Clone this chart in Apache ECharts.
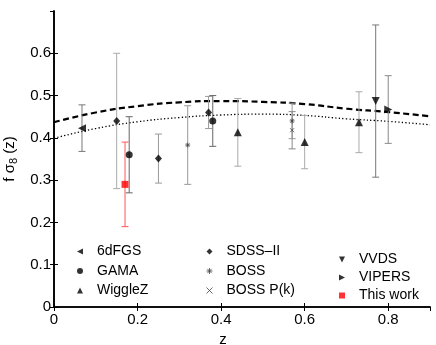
<!DOCTYPE html>
<html>
<head>
<meta charset="utf-8">
<script src="https://cdn.jsdelivr.net/npm/echarts@6/dist/echarts.min.js"></script>
<style>
  html, body { margin: 0; padding: 0; background: #fff; }
  #main { width: 436px; height: 345px; }
</style>
</head>
<body>
<div id="main"></div>
<script>
  // each point: [z, f sigma8, error]
  const sixdFGS = [[0.067, 0.423, 0.055]]
  const gama = [[0.18, 0.36, 0.09], [0.38, 0.44, 0.06]]
  const wiggleZ = [[0.44, 0.413, 0.08], [0.60, 0.39, 0.063], [0.73, 0.437, 0.072]]
  const sdssLow = [[0.15, 0.44, 0.16]]
  const sdss = [[0.25, 0.351, 0.058], [0.37, 0.46, 0.038]]
  const boss = [[0.32, 0.383, 0.093], [0.57, 0.44, 0.042]]
  const bossPk = [[0.57, 0.418, 0.044]]
  const vvds = [[0.77, 0.487, 0.18]]
  const vipers = [[0.80, 0.467, 0.08]]
  const thisWork = [[0.17, 0.29, 0.10]]

  // model curves
  const modelZ = [0, 0.1, 0.2, 0.3, 0.4, 0.5, 0.6, 0.7, 0.8, 0.9]
  const dashedModel = [0.437, 0.460, 0.475, 0.484, 0.487, 0.485, 0.480, 0.469, 0.461, 0.451]
  const dottedModel = [0.399, 0.422, 0.438, 0.448, 0.454, 0.456, 0.453, 0.445, 0.439, 0.431]

  const xTicks = ['0', '0.2', '0.4', '0.6', '0.8']
  const yTicks = ['0', '0.1', '0.2', '0.3', '0.4', '0.5', '0.6']

  const FONT = 'Liberation Sans'
  const ASTERISK = 'path://M5,0L5,10M0,5L10,5M1.5,1.5L8.5,8.5M8.5,1.5L1.5,8.5'
  const CROSS = 'path://M0,0L10,10M10,0L0,10'
  const TRI_LEFT = 'path://M0,5L10,0L10,10Z'
  const TRI_RIGHT = 'path://M10,5L0,0L0,10Z'
  const TRI_DOWN = 'path://M0,0L10,0L5,10Z'
  const STAR_STYLE = {color: 'none', borderColor: '#444', borderWidth: 1}

  const chart = echarts.init(document.getElementById('main'))

  function errorBars (data, color) {
    return {
      type: 'custom',
      silent: true,
      z: 2,
      data: data,
      encode: {x: 0, y: 1},
      renderItem: function (params, api) {
        const z = api.value(0)
        const v = api.value(1)
        const e = api.value(2)
        const top = api.coord([z, v + e])
        const bot = api.coord([z, v - e])
        const cap = 3.5
        const style = {stroke: color, lineWidth: 1}
        return {
          type: 'group',
          children: [
            {type: 'line', shape: {x1: top[0], y1: top[1], x2: bot[0], y2: bot[1]}, style: style},
            {type: 'line', shape: {x1: top[0] - cap, y1: top[1], x2: top[0] + cap, y2: top[1]}, style: style},
            {type: 'line', shape: {x1: bot[0] - cap, y1: bot[1], x2: bot[0] + cap, y2: bot[1]}, style: style}
          ]
        }
      }
    }
  }

  function points (name, data, symbol, size, style) {
    return {
      name: name,
      type: 'scatter',
      z: 3,
      data: data.map(d => [d[0], d[1]]),
      symbol: symbol,
      symbolSize: size,
      symbolKeepAspect: true,
      itemStyle: style || {color: '#000'}
    }
  }

  const legendText = {fontFamily: FONT, fontSize: 14, color: '#000', padding: [0, 0, 0, 9]}
  const legendBase = {
    orient: 'vertical', itemWidth: 6, itemHeight: 6, padding: 0,
    selectedMode: false, textStyle: legendText
  }
  const frameLine = {show: true, lineStyle: {color: '#000', width: 1.6}}

  const option = {
    animation: false,
    grid: {left: 54, right: 6, top: 11, bottom: 38, outerBoundsMode: 'none', containLabel: false},
    legend: [
      Object.assign({left: 77, top: 244.5, itemGap: 5.5, data: [
        {name: '6dFGS', icon: TRI_LEFT},
        {name: 'GAMA', icon: 'circle', itemStyle: {color: '#000'}},
        {name: 'WiggleZ', icon: 'triangle'}
      ]}, legendBase),
      Object.assign({left: 204, top: 244.5, itemGap: 5.5, data: [
        {name: 'SDSS–II', icon: 'diamond'},
        {name: 'BOSS', icon: ASTERISK, itemStyle: STAR_STYLE},
        {name: 'BOSS P(k)', icon: CROSS, itemStyle: STAR_STYLE}
      ]}, legendBase),
      Object.assign({left: 339, top: 252.5, itemGap: 4, data: [
        {name: 'VVDS', icon: TRI_DOWN},
        {name: 'VIPERS', icon: TRI_RIGHT},
        {name: 'This work', icon: 'rect'}
      ]}, legendBase)
    ],
    xAxis: [
      {
        type: 'value', min: 0, max: 0.9, interval: 0.2,
        name: 'z', nameLocation: 'middle', nameGap: 22,
        nameTextStyle: {fontFamily: FONT, fontSize: 15, color: '#000', padding: [0, 38, 0, 0]},
        axisLine: frameLine,
        axisTick: {inside: true, length: 4, lineStyle: {color: '#000'}},
        axisLabel: {
          fontFamily: FONT, fontSize: 15, color: '#000', margin: 5, showMaxLabel: false,
          formatter: v => xTicks.find(t => Math.abs(+t - v) < 1e-6) || ''
        },
        splitLine: {show: false}
      },
      {
        type: 'value', min: 0, max: 0.9, interval: 0.2, position: 'top',
        axisLine: frameLine,
        axisTick: {inside: true, length: 4, lineStyle: {color: '#000'}},
        axisLabel: {show: false},
        splitLine: {show: false}
      }
    ],
    yAxis: [
      {
        type: 'value', min: 0, max: 0.7, interval: 0.1,
        name: '{a|f σ}{s|8}{a| (z)}', nameLocation: 'middle', nameGap: 32,
        nameTextStyle: {
          color: '#000',
          rich: {
            a: {fontFamily: FONT, fontSize: 15, color: '#000'},
            s: {fontFamily: FONT, fontSize: 11, color: '#000', padding: [8, 0, 0, 0]}
          }
        },
        axisLine: frameLine,
        axisTick: {inside: true, length: 4, lineStyle: {color: '#000'}},
        axisLabel: {
          fontFamily: FONT, fontSize: 15, color: '#000', margin: 3, showMaxLabel: false,
          formatter: v => yTicks.find(t => Math.abs(+t - v) < 1e-6) || ''
        },
        splitLine: {show: false}
      },
      {
        type: 'value', min: 0, max: 0.7, interval: 0.1, position: 'right',
        axisLine: frameLine,
        axisTick: {inside: true, length: 4, lineStyle: {color: '#000'}},
        axisLabel: {show: false},
        splitLine: {show: false}
      }
    ],
    series: [
      {
        type: 'line', silent: true, z: 1, smooth: true, showSymbol: false,
        data: modelZ.map((z, i) => [z, dashedModel[i]]),
        lineStyle: {color: '#000', width: 2.2, type: [6, 3.5]}
      },
      {
        type: 'line', silent: true, z: 1, smooth: true, showSymbol: false,
        data: modelZ.map((z, i) => [z, dottedModel[i]]),
        lineStyle: {color: '#000', width: 1.3, type: [1.3, 2.2]}
      },
      errorBars(sixdFGS, '#777'),
      errorBars(gama, '#666'),
      errorBars(wiggleZ, '#aaa'),
      errorBars(sdssLow, '#aaa'),
      errorBars(sdss, '#999'),
      errorBars(boss, '#999'),
      errorBars(bossPk, '#888'),
      errorBars(vvds, '#777'),
      errorBars(vipers, '#888'),
      errorBars(thisWork, '#ff5555'),
      points('6dFGS', sixdFGS, TRI_LEFT, 8),
      points('GAMA', gama, 'circle', 7),
      points('WiggleZ', wiggleZ, 'triangle', 8),
      points('SDSS–II', sdss, 'diamond', [7, 8]),
      points('SDSS–II', sdssLow, 'diamond', [7, 8]),
      points('BOSS', boss, ASTERISK, 5, STAR_STYLE),
      points('BOSS P(k)', bossPk, CROSS, 4, STAR_STYLE),
      points('VVDS', vvds, TRI_DOWN, 8),
      points('VIPERS', vipers, TRI_RIGHT, 8),
      points('This work', thisWork, 'rect', 7, {color: '#ff0000'})
    ]
  }

  chart.setOption(option)
</script>
</body>
</html>
